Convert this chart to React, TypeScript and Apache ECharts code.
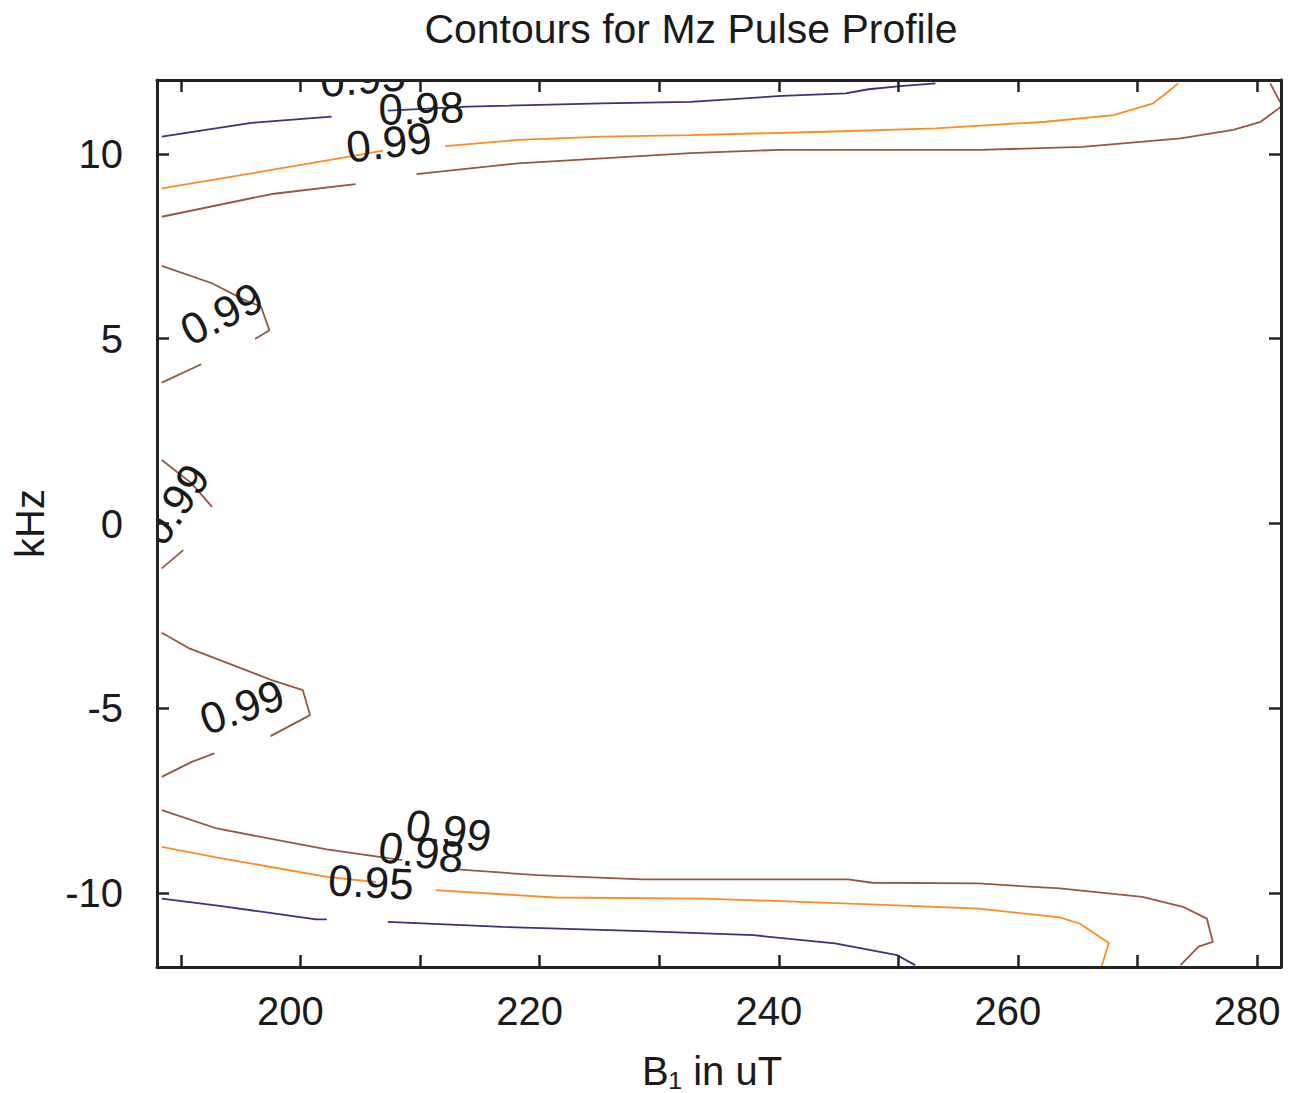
import React, { useEffect, useRef } from "react";
import * as echarts from "echarts";

// ---- contour polylines (x = B1 in uT, y = kHz), split where labels interrupt them ----
const navyTopA = [[188.4, 10.47], [195.9, 10.84], [202.6, 11.01]];
const navyTopB = [[207.3, 11.17], [214.0, 11.28], [225.2, 11.37], [232.6, 11.41], [240.3, 11.57], [245.6, 11.64], [247.5, 11.75], [250.4, 11.84], [253.1, 11.91]];
const orangeTopA = [[188.4, 9.07], [195.9, 9.475], [204.3, 9.94], [206.9, 10.09]];
const orangeTopB = [[212.1, 10.21], [218.2, 10.38], [225.2, 10.47], [232.6, 10.51], [243.8, 10.6], [253.1, 10.69], [262.3, 10.87], [268.0, 11.05], [271.3, 11.37], [272.4, 11.64], [273.4, 11.91]];
const brownTopA = [[188.4, 8.3], [197.6, 8.915], [204.6, 9.185]];
const brownTopB = [[209.7, 9.456], [218.2, 9.746], [225.2, 9.88], [232.6, 10.02], [240.1, 10.11], [256.8, 10.11], [265.4, 10.19], [273.6, 10.42], [278.0, 10.65], [280.3, 10.87], [282.1, 11.3], [281.1, 11.91]];
const brownUpperLeftA = [[188.4, 6.97], [192.6, 6.5], [195.3, 6.05], [196.7, 5.865], [197.4, 5.23], [196.2, 4.99]];
const brownUpperLeftB = [[191.7, 4.31], [188.4, 3.81]];
const brownMidLeftA = [[188.4, 1.716], [190.9, 1.085], [192.6, 0.452]];
const brownMidLeftB = [[190.2, -0.72], [188.4, -1.215]];
const brownLowerLeftA = [[188.4, -2.958], [190.6, -3.364], [197.6, -4.238], [200.2, -4.509], [200.8, -5.185], [197.5, -5.754]];
const brownLowerLeftB = [[192.8, -6.222], [190.9, -6.449], [188.4, -6.855]];
const brownBottomA = [[188.4, -7.756], [193.0, -8.252], [202.2, -8.82], [208.5, -9.11]];
const brownBottomB = [[213.1, -9.36], [219.8, -9.515], [228.6, -9.63], [245.8, -9.63], [247.8, -9.72], [256.7, -9.74], [263.5, -9.875], [270.4, -10.1], [273.8, -10.37], [275.8, -10.69], [276.3, -11.32], [275.1, -11.45], [273.6, -11.95]];
const orangeBottomA = [[188.4, -8.75], [193.4, -9.06], [202.2, -9.56], [206.3, -9.7]];
const orangeBottomB = [[211.3, -9.92], [221.3, -10.12], [233.6, -10.15], [239.6, -10.21], [249.9, -10.33], [256.7, -10.42], [263.5, -10.66], [265.2, -10.83], [267.6, -11.35], [267.0, -11.98]];
const navyBottomA = [[188.4, -10.15], [193.4, -10.355], [201.3, -10.71], [202.2, -10.71]];
const navyBottomB = [[207.3, -10.78], [216.9, -10.915], [228.6, -11.03], [237.9, -11.14], [244.7, -11.36], [249.9, -11.68], [251.4, -11.95]];

// ---- contour labels ----
const labelTexts = ["0.95", "0.98", "0.99", "0.99", "0.99", "0.99", "0.99", "0.98", "0.95"];
const labelX = [205.2, 210.1, 207.4, 193.4, 189.5, 195.1, 212.4, 210.1, 205.9];
const labelY = [12.05, 11.24, 10.32, 5.68, 0.52, -4.96, -8.3, -8.89, -9.7];
const labelAngle = [5, 2, 7, 27, 56, 19, -9, -8, -3];

// ---- axes ----
const xTicks = [190, 200, 210, 220, 230, 240, 250, 260, 270, 280];
const xLabels = [200, 220, 240, 260, 280];
const yTicks = [-10, -5, 0, 5, 10];

const NAVY = "#34357a";
const ORANGE = "#ff8b22";
const BROWN = "#94573f";
const FONT = "'Liberation Sans', Arial, Helvetica, sans-serif";

const segments: { data: number[][]; color: string }[] = [
  { data: navyTopA, color: NAVY },
  { data: navyTopB, color: NAVY },
  { data: orangeTopA, color: ORANGE },
  { data: orangeTopB, color: ORANGE },
  { data: brownTopA, color: BROWN },
  { data: brownTopB, color: BROWN },
  { data: brownUpperLeftA, color: BROWN },
  { data: brownUpperLeftB, color: BROWN },
  { data: brownMidLeftA, color: BROWN },
  { data: brownMidLeftB, color: BROWN },
  { data: brownLowerLeftA, color: BROWN },
  { data: brownLowerLeftB, color: BROWN },
  { data: brownBottomA, color: BROWN },
  { data: brownBottomB, color: BROWN },
  { data: orangeBottomA, color: ORANGE },
  { data: orangeBottomB, color: ORANGE },
  { data: navyBottomA, color: NAVY },
  { data: navyBottomB, color: NAVY },
];

export default function App() {
  const ref = useRef<HTMLDivElement>(null);
  useEffect(() => {
    if (!ref.current) return;
    const chart = echarts.init(ref.current, null, { renderer: "svg" });
    const axisLine = { show: true, onZero: false, lineStyle: { color: "#222", width: 3 } };
    const tickStyle = { color: "#222", width: 2.5 };
    const lineSeries = segments.map((s, i) => ({
      type: "line",
      name: "c" + i,
      data: s.data,
      showSymbol: false,
      symbol: "none",
      clip: true,
      lineStyle: { color: s.color, width: 1.8 },
      z: 2,
    }));
    const labelData = labelTexts.map((_, i) => [labelX[i], labelY[i], labelAngle[i]]);
    chart.setOption({
      animation: false,
      backgroundColor: "#fff",
      title: {
        text: "Contours for Mz Pulse Profile",
        left: 686,
        top: 3,
        textAlign: "center",
        textStyle: { fontFamily: FONT, fontSize: 41, fontWeight: "normal", color: "#1a1a1a" },
      },
      grid: { left: 157, right: 17, top: 80, bottom: 126, outerBoundsMode: "none", containLabel: false },
      xAxis: [
        {
          type: "value",
          min: 188,
          max: 282,
          position: "bottom",
          z: 20,
          axisLine,
          splitLine: { show: false },
          axisTick: { show: true, inside: true, length: 12, customValues: xTicks, lineStyle: tickStyle },
          axisLabel: { customValues: xLabels, margin: 24, padding: [0, 20, 0, 0], fontFamily: FONT, fontSize: 40, color: "#1a1a1a" },
          name: "B₁ in uT",
          nameLocation: "middle",
          nameGap: 84,
          nameTextStyle: { fontFamily: FONT, fontSize: 40, color: "#1a1a1a", padding: [0, 14, 0, 0] },
        },
        {
          type: "value",
          min: 188,
          max: 282,
          position: "top",
          z: 20,
          axisLine,
          splitLine: { show: false },
          axisTick: { show: true, inside: true, length: 12, customValues: xTicks, lineStyle: tickStyle },
          axisLabel: { show: false },
        },
      ],
      yAxis: [
        {
          type: "value",
          min: -12,
          max: 12,
          position: "left",
          z: 20,
          axisLine,
          splitLine: { show: false },
          axisTick: { show: true, inside: true, length: 12, customValues: yTicks, lineStyle: tickStyle },
          axisLabel: { customValues: yTicks, margin: 34, fontFamily: FONT, fontSize: 40, color: "#1a1a1a" },
          name: "kHz",
          nameLocation: "middle",
          nameGap: 107,
          nameTextStyle: { fontFamily: FONT, fontSize: 40, color: "#1a1a1a" },
        },
        {
          type: "value",
          min: -12,
          max: 12,
          position: "right",
          z: 20,
          axisLine,
          splitLine: { show: false },
          axisTick: { show: true, inside: true, length: 12, customValues: yTicks, lineStyle: tickStyle },
          axisLabel: { show: false },
        },
      ],
      series: [
        ...lineSeries,
        {
          type: "custom",
          name: "labels",
          data: labelData,
          clip: true,
          z: 5,
          encode: { x: 0, y: 1 },
          renderItem: (params: any, api: any) => {
            const p = api.coord([api.value(0), api.value(1)]);
            return {
              type: "text",
              x: p[0],
              y: p[1],
              rotation: (api.value(2) * Math.PI) / 180,
              style: {
                text: labelTexts[params.dataIndex],
                fontFamily: FONT,
                fontSize: 44,
                fill: "#1a1a1a",
                align: "center",
                verticalAlign: "middle",
              },
            };
          },
        },
      ],
    });
    return () => chart.dispose();
  }, []);
  return <div ref={ref} style={{ position: "absolute", left: 0, top: 0, width: 1298, height: 1093 }} />;
}
